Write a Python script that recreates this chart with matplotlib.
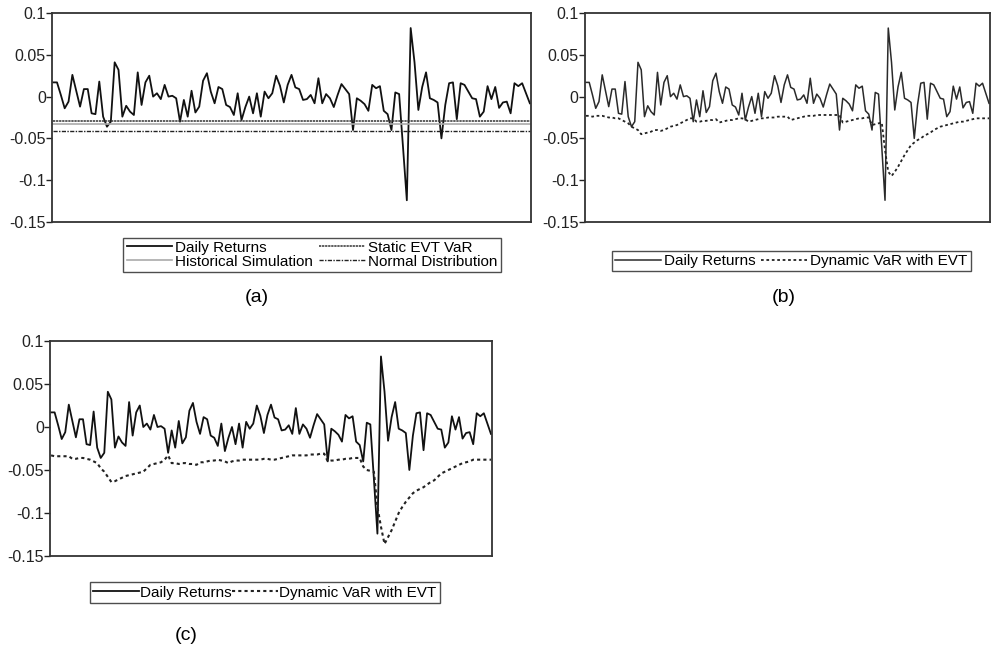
import numpy as np
import matplotlib.pyplot as plt

plt.rcParams['font.family'] = ['Liberation Sans', 'DejaVu Sans']

# daily returns (same series in all three panels)
returns = [0.017, 0.017, 0.002, -0.014, -0.006, 0.026, 0.007, -0.012, 0.009, 0.009,
           -0.020, -0.021, 0.018, -0.024, -0.036, -0.030, 0.041, 0.032, -0.024, -0.011,
           -0.018, -0.022, 0.029, -0.010, 0.017, 0.025, 0.000, 0.004, -0.003, 0.014,
           0.000, 0.001, -0.002, -0.030, -0.004, -0.024, 0.007, -0.019, -0.012, 0.019,
           0.028, 0.006, -0.008, 0.0115, 0.009, -0.010, -0.0125, -0.022, 0.004, -0.028,
           -0.0125, 0.000, -0.020, 0.004, -0.024, 0.006, -0.002, 0.004, 0.025, 0.013,
           -0.007, 0.014, 0.026, 0.011, 0.009, -0.004, -0.003, 0.002, -0.008, 0.022,
           -0.008, 0.003, -0.002, -0.0125, 0.002, 0.015, 0.009, 0.003, -0.040, -0.002,
           -0.005, -0.009, -0.017, 0.014, 0.010, 0.0125, -0.017, -0.021, -0.040, 0.005,
           0.003, -0.060, -0.124, 0.082, 0.041, -0.016, 0.0115, 0.029, -0.002, -0.004,
           -0.007, -0.050, -0.010, 0.016, 0.017, -0.027, 0.016, 0.014, 0.006, -0.002,
           -0.003, -0.024, -0.018, 0.0125, -0.003, 0.0115, -0.0135, -0.007, -0.006, -0.020,
           0.016, 0.0125, 0.016, 0.004, -0.008]

# static VaR levels, panel (a)
static_evt = -0.0288
hist_sim = -0.0328
normal_dist = -0.041

# dynamic VaR with EVT, panel (b)
var_b = [-0.023, -0.023, -0.024, -0.023, -0.023, -0.023, -0.024, -0.025, -0.025, -0.026,
         -0.026, -0.028, -0.030, -0.032, -0.036, -0.038, -0.040, -0.045, -0.044, -0.043,
         -0.042, -0.040, -0.040, -0.041, -0.040, -0.038, -0.036, -0.035, -0.034, -0.032,
         -0.030, -0.028, -0.026, -0.026, -0.030, -0.030, -0.029, -0.029, -0.028, -0.028,
         -0.027, -0.031, -0.030, -0.029, -0.028, -0.028, -0.027, -0.026, -0.026, -0.027,
         -0.030, -0.029, -0.028, -0.027, -0.026, -0.026, -0.025, -0.025, -0.025, -0.024,
         -0.024, -0.024, -0.024, -0.028, -0.027, -0.026, -0.025, -0.024, -0.023, -0.023,
         -0.023, -0.022, -0.022, -0.022, -0.022, -0.022, -0.022, -0.022, -0.022, -0.031,
         -0.030, -0.029, -0.028, -0.027, -0.026, -0.026, -0.025, -0.025, -0.034, -0.033,
         -0.032, -0.031, -0.064, -0.090, -0.095, -0.090, -0.084, -0.077, -0.070, -0.064,
         -0.058, -0.055, -0.052, -0.050, -0.047, -0.045, -0.043, -0.040, -0.038, -0.036,
         -0.035, -0.034, -0.033, -0.032, -0.031, -0.030, -0.030, -0.029, -0.028, -0.027,
         -0.026, -0.026, -0.026, -0.026, -0.026]

# dynamic VaR with EVT, panel (c)
var_c = [-0.033, -0.034, -0.034, -0.034, -0.034, -0.034, -0.037, -0.037, -0.036, -0.036,
         -0.037, -0.038, -0.040, -0.042, -0.048, -0.052, -0.058, -0.064, -0.063, -0.061,
         -0.059, -0.057, -0.056, -0.055, -0.054, -0.053, -0.052, -0.048, -0.044, -0.043,
         -0.042, -0.041, -0.038, -0.033, -0.042, -0.042, -0.043, -0.042, -0.042, -0.043,
         -0.043, -0.044, -0.041, -0.041, -0.040, -0.039, -0.039, -0.038, -0.039, -0.040,
         -0.042, -0.040, -0.039, -0.039, -0.038, -0.038, -0.038, -0.038, -0.038, -0.038,
         -0.037, -0.037, -0.038, -0.038, -0.037, -0.036, -0.035, -0.034, -0.033, -0.033,
         -0.033, -0.033, -0.033, -0.032, -0.032, -0.032, -0.031, -0.031, -0.040, -0.039,
         -0.039, -0.038, -0.038, -0.037, -0.037, -0.036, -0.036, -0.036, -0.046, -0.050,
         -0.051, -0.052, -0.093, -0.116, -0.136, -0.128, -0.120, -0.110, -0.100, -0.093,
         -0.087, -0.082, -0.077, -0.074, -0.072, -0.070, -0.067, -0.064, -0.062, -0.058,
         -0.054, -0.052, -0.050, -0.048, -0.046, -0.044, -0.042, -0.041, -0.040, -0.038,
         -0.038, -0.038, -0.038, -0.038, -0.038]

yticks = [0.1, 0.05, 0, -0.05, -0.1, -0.15]
ytick_labels = ['0.1', '0.05', '0', '-0.05', '-0.1', '-0.15']

days = np.arange(len(returns))

legend_kw = dict(ncol=2, fontsize=11, frameon=True, fancybox=False,
                 edgecolor='#222222', handlelength=3.0, borderaxespad=0)


def style_axes(ax):
    ax.set_xlim(-0.3, len(returns) - 0.7)
    ax.set_ylim(-0.15, 0.1)
    ax.set_yticks(yticks)
    ax.set_yticklabels(ytick_labels)
    ax.set_xticks([])
    ax.tick_params(axis='y', direction='out', length=4, width=1, pad=0.5,
                   labelsize=11.5, colors='#222222')
    for s in ax.spines.values():
        s.set_linewidth(1.3)
        s.set_color('#333333')


fig = plt.figure(figsize=(9.92, 6.51), dpi=100)

# (a) static measures
ax_a = fig.add_axes([52 / 992, 1 - 222 / 651, 479 / 992, 209 / 651])
ax_a.plot(days, returns, color='#111111', lw=1.3, label='Daily Returns')
ax_a.plot(days, [hist_sim] * len(days), color='#aaaaaa', lw=1.2, label='Historical Simulation')
ax_a.plot(days, [static_evt] * len(days), color='#333333', lw=1.1,
          linestyle=(0, (1.5, 0.5)), label='Static EVT VaR')
ax_a.plot(days, [normal_dist] * len(days), color='#222222', lw=1.0,
          linestyle=(0, (3, 1, 1, 1)), label='Normal Distribution')
style_axes(ax_a)
ax_a.legend(loc='upper center', bbox_to_anchor=(0.543, -0.075),
            handletextpad=0.2, columnspacing=0.4, labelspacing=0.0,
            borderpad=0.2, **legend_kw)
fig.text(257 / 992, 1 - 297 / 651, '(a)', fontsize=14, ha='center', va='center')

# (b) dynamic VaR
ax_b = fig.add_axes([585 / 992, 1 - 222 / 651, 405 / 992, 209 / 651])
ax_b.plot(days, returns, color='#2a2a2a', lw=1.1, label='Daily Returns')
ax_b.plot(days, var_b, color='#222222', lw=1.3, linestyle=(0, (1.5, 1.5)),
          label='Dynamic VaR with EVT')
style_axes(ax_b)
ax_b.legend(loc='upper center', bbox_to_anchor=(0.509, -0.14),
            handletextpad=0.2, columnspacing=0.4, borderpad=0.2, **legend_kw)
fig.text(784 / 992, 1 - 297 / 651, '(b)', fontsize=14, ha='center', va='center')

# (c) dynamic VaR, second sample
ax_c = fig.add_axes([50 / 992, 1 - 556 / 651, 442 / 992, 215 / 651])
ax_c.plot(days, returns, color='#111111', lw=1.3, label='Daily Returns')
ax_c.plot(days, var_c, color='#222222', lw=1.5, linestyle=(0, (1.5, 1.5)),
          label='Dynamic VaR with EVT')
style_axes(ax_c)
ax_c.legend(loc='upper center', bbox_to_anchor=(0.486, -0.12),
            handletextpad=0.05, columnspacing=0.05, borderpad=0.25, **legend_kw)
fig.text(186 / 992, 1 - 636 / 651, '(c)', fontsize=14, ha='center', va='center')

fig.savefig('out.png', dpi=100)
